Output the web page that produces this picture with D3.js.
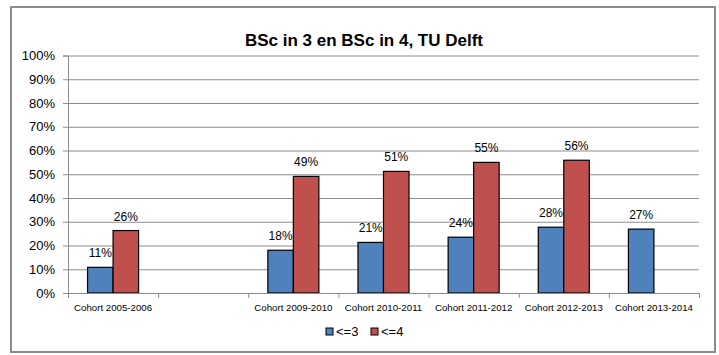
<!DOCTYPE html>
<html>
<head>
<meta charset="utf-8">
<script src="https://cdn.jsdelivr.net/npm/d3@7"></script>
<style>
body { margin: 0; background: #fff; }
svg { font-family: "Liberation Sans", Arial, sans-serif; }
</style>
</head>
<body>
<div id="graph"></div>
<script>
var categories = ["Cohort 2005-2006", "", "Cohort 2009-2010", "Cohort 2010-2011", "Cohort 2011-2012", "Cohort 2012-2013", "Cohort 2013-2014"];
var seriesNames = ["<=3", "<=4"];
var bsc3 = [0.108, null, 0.18, 0.213, 0.235, 0.277, 0.269];
var bsc4 = [0.263, null, 0.491, 0.512, 0.55, 0.559, null];
var yTicks = [0, 0.1, 0.2, 0.3, 0.4, 0.5, 0.6, 0.7, 0.8, 0.9, 1.0];
var colors = ["#4F81BD", "#C0504D"];

var W = 719, H = 355;
var margin = {top: 55.5, right: 20, bottom: 62, left: 68};
var width = 699 - margin.left;
var height = 293 - margin.top;

var svg = d3.select("#graph").append("svg")
    .attr("width", W)
    .attr("height", H);

// outer frame
svg.append("rect")
    .attr("x", 11).attr("y", 7)
    .attr("width", 704).attr("height", 345)
    .attr("fill", "#fff")
    .attr("stroke", "#8c8c8c")
    .attr("stroke-width", 2);

svg.append("text")
    .attr("x", 364).attr("y", 46)
    .attr("text-anchor", "middle")
    .style("font-size", "17px")
    .style("font-weight", "bold")
    .text("BSc in 3 en BSc in 4, TU Delft");

var g = svg.append("g")
    .attr("transform", "translate(" + margin.left + "," + margin.top + ")");

// index keys so the blank category stays unique
var keys = categories.map(function(c, i) { return i; });

var x0 = d3.scaleBand().domain(keys).range([0, width])
    .paddingInner(0.434).paddingOuter(0.217);
var x1 = d3.scaleBand().domain([0, 1]).range([0, x0.bandwidth()]);
var y = d3.scaleLinear().domain([0, 1]).range([height, 0]);
var xb = d3.scaleLinear().domain([0, categories.length]).range([0, width]);

// gridlines
g.append("g")
    .call(d3.axisLeft(y).tickValues(yTicks).tickSize(-width).tickFormat(""))
    .call(function(s) {
        s.select(".domain").remove();
        s.selectAll("line").attr("stroke", "#8c8c8c");
    });

// y axis
g.append("g")
    .call(d3.axisLeft(y).tickValues(yTicks).tickSize(5).tickPadding(8)
        .tickFormat(d3.format(".0%")))
    .call(function(s) {
        s.select(".domain").attr("stroke", "#8c8c8c");
        s.selectAll("line").attr("stroke", "#8c8c8c");
        s.selectAll("text").style("font-size", "13px").attr("fill", "#000");
    });

// bars
var rows = keys.map(function(k) { return [bsc3[k], bsc4[k]]; });
var groups = g.selectAll(".grp").data(rows).enter().append("g")
    .attr("transform", function(d, i) { return "translate(" + x0(i) + ",0)"; });

groups.selectAll("rect")
    .data(function(d) { return d.map(function(v, s) { return {v: v, s: s}; }).filter(function(e) { return e.v != null; }); })
    .enter().append("rect")
    .attr("x", function(e) { return x1(e.s); })
    .attr("y", function(e) { return y(e.v); })
    .attr("width", x1.bandwidth())
    .attr("height", function(e) { return height - y(e.v); })
    .attr("fill", function(e) { return colors[e.s]; })
    .attr("stroke", "#000")
    .attr("stroke-width", 1.2);

groups.selectAll("text")
    .data(function(d) { return d.map(function(v, s) { return {v: v, s: s}; }).filter(function(e) { return e.v != null; }); })
    .enter().append("text")
    .attr("x", function(e) { return x1(e.s) + x1.bandwidth() / 2; })
    .attr("y", function(e) { return y(e.v) - 10; })
    .attr("text-anchor", "middle")
    .style("font-size", "12px")
    .text(function(e) { return Math.round(e.v * 100) + "%"; });

// x axis: boundary ticks
g.append("g")
    .attr("transform", "translate(0," + height + ")")
    .call(d3.axisBottom(xb).ticks(categories.length).tickSize(5).tickFormat(""))
    .call(function(s) {
        s.select(".domain").attr("stroke", "#8c8c8c");
        s.selectAll("line").attr("stroke", "#8c8c8c");
    });

// x axis: category labels
g.append("g")
    .attr("transform", "translate(0," + height + ")")
    .call(d3.axisBottom(x0).tickSize(0).tickPadding(11)
        .tickFormat(function(k) { return categories[k]; }))
    .call(function(s) {
        s.select(".domain").remove();
        s.selectAll("text").style("font-size", "9.7px").attr("fill", "#000");
    });

// legend
var legend = svg.append("g").attr("transform", "translate(326,328)");
var items = legend.selectAll("g").data(seriesNames).enter().append("g")
    .attr("transform", function(d, i) { return "translate(" + (i * 45) + ",0)"; });
items.append("rect")
    .attr("width", 7).attr("height", 7)
    .attr("fill", function(d, i) { return colors[i]; })
    .attr("stroke", "#000");
items.append("text")
    .attr("x", 10).attr("y", 8)
    .style("font-size", "13px")
    .text(function(d) { return d; });
</script>
</body>
</html>
